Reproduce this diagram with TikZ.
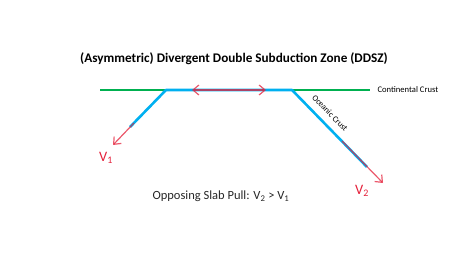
\documentclass[tikz,border=0pt]{standalone}
\usepackage{fontspec}
\setmainfont{Carlito}
\usetikzlibrary{arrows.meta}
\definecolor{crustgreen}{RGB}{0,176,80}
\definecolor{slabblue}{RGB}{0,176,240}
\definecolor{pullred}{RGB}{228,32,58}

\begin{document}
\begin{tikzpicture}[x=1pt, y=-1pt, every node/.style={font=\small},
    crust/.style={line width=2.6pt},
    pull/.style={pullred, line width=1.2pt, opacity=0.75}]
      \useasboundingbox (0,0) rectangle (460,259);
      % nodes
      \coordinate (CW) at (100,90);
      \coordinate (RL) at (166,90);
      \coordinate (RR) at (292,90);
      \coordinate (CE) at (370,90);
      \coordinate (SL) at (130,127);
      \coordinate (SR) at (367,167);
      \coordinate (PL) at (134,123);
      \coordinate (VL) at (113,145);
      \coordinate (PR) at (342,141);
      \coordinate (VR) at (383,183);
      \coordinate (MA) at (192,90);
      \coordinate (MB) at (266,90);
      % continental crust
      \draw[crust, crustgreen] (CW) -- (CE);
      % oceanic crust: ridge and both slabs
      \draw[crust, slabblue, line join=round] (SL) -- (RL) -- (RR) -- (SR);
      % spreading and slab pull arrows
      \draw[pull, {Straight Barb[length=6pt, width=10pt]}-{Straight Barb[length=6pt, width=10pt]}] (MA) -- (MB);
      \draw[pull, -{Straight Barb[length=6pt, width=10pt]}] (PL) -- (VL);
      \draw[pull, -{Straight Barb[length=6pt, width=10pt]}] (PR) -- (VR);
      % labels
      \node[font=\bfseries\fontsize{13.2}{15}\selectfont] (title) at (234,59) {(Asymmetric) Divergent Double Subduction Zone (DDSZ)};
      \node[anchor=west, font=\fontsize{8.6}{10}\selectfont] (cc) at (374,90) {Continental Crust};
      \node[rotate=-46, font=\fontsize{8.4}{10}\selectfont] (oc) at (330,113) {Oceanic Crust};
      \node[pullred, font=\Large] (v1) at (106,158) {V\textsubscript{1}};
      \node[pullred, font=\Large] (v2) at (362,191) {V\textsubscript{2}};
      \node[font=\fontsize{12.5}{15}\selectfont, text=black!85] (slabpull) at (221,196) {Opposing Slab Pull: V\textsubscript{2} > V\textsubscript{1}};
    \end{tikzpicture}
\end{document}
